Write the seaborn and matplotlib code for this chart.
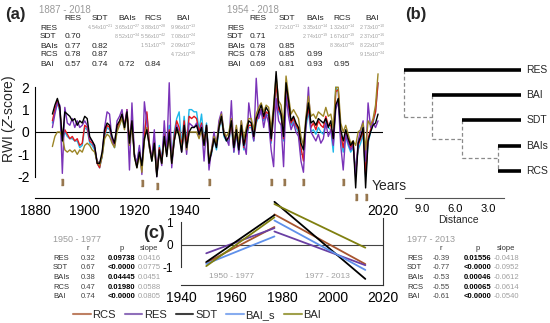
import numpy as np
import pandas as pd
import matplotlib
matplotlib.use("Agg")
import matplotlib.pyplot as plt
from matplotlib.lines import Line2D
import seaborn as sns

# ---------------- data ----------------
years = list(range(1887, 2019))
series_names = ["RCS", "RES", "SDT", "BAI_s", "BAI"]

sdt = [0.8, 1.2, 1.5,
       1.1, -0.4, 0.9, 0.8, 0.7, 0.5, 0.6, 0.3, 0.5, 0.4,
       0.7, 0.6, -0.2, -0.4, -0.6, -1.4, -1.4, -0.9, 0.1, 0.4,
       0.3, -0.2, -0.5, 0.3, 0.5, 0.8, 0.2, 0.9, -0.5, 0.5,
       -1.1, -1.6, -0.9, -1.5, -0.3, 0.1, -0.6, -1.3, -0.5, -2.0,
       -0.8, -1.4, -0.2, -1.1, 0.0, -1.4, -0.4, 0.2, -0.2, -0.9,
       0.3, -0.7, 0.0, 0.2, 0.2, 0.3, -0.1, 0.2, -0.6, 0.3,
       -1.4, -0.9, -0.3, -0.7, 0.2, 0.7, -0.1, -0.4, -0.2, 0.5,
       -0.7, 0.1, -0.8, 0.3, -0.6, 0.0, 0.5, 0.4, -0.2, 0.6,
       0.9, 1.2, 0.7, 1.1, 0.9, -0.3, 1.0, 2.7, 1.2, 0.8,
       -0.2, 2.2, 1.4, 0.5, 0.7, 0.4, 0.2, -0.5, -0.8, 0.5,
       1.3, 0.4, 0.5, 0.3, 0.6, 0.5, 0.4, 0.6, 0.2, 0.5,
       -0.3, 1.2, 1.5, 0.1, -0.4, 0.1, -0.3, -0.6, -0.4, -2.5,
       -0.5, -0.2, 0.2, -2.5, -0.4, 0.0, 0.3, 0.4, 0.8]

rcs = [0.5, 1.0, 1.4,
       1.0, -0.3, 0.1, -0.1, -0.3, -0.2, -0.4, -0.3, -0.6, -0.5,
       0.3, 0.2, -0.4, -0.5, -0.7, -1.4, -1.6, -1.0, -0.1, 0.3,
       0.2, -0.3, -0.6, 0.2, 0.4, 0.8, 0.3, 1.0, -0.4, 0.6,
       -1.0, -1.5, -0.8, -1.6, -0.2, 0.9, -0.5, -1.2, -0.4, -1.9,
       -0.7, -1.3, -0.1, -0.9, 0.1, -1.3, -0.2, 0.5, 0.2, -0.7,
       0.5, -0.6, 0.7, 0.6, 0.7, 0.6, 0.0, 0.4, -0.5, 0.3,
       -1.3, -0.9, -0.3, -0.6, 0.2, 0.7, -0.1, -0.3, -0.3, 0.4,
       -0.8, 0.0, -0.8, 0.2, -0.7, -0.2, 0.3, 0.3, -0.3, 0.5,
       0.8, 1.0, 0.6, 0.9, 0.8, -0.4, 0.8, 2.2, 1.0, 0.8,
       -0.3, 2.2, 1.2, 0.4, 0.6, 0.3, 0.1, -0.7, -1.3, 0.4,
       1.1, 0.2, 0.4, 0.1, 0.5, 0.3, 0.2, 0.7, 0.3, 0.3,
       -0.5, 1.8, 1.9, -0.1, -0.7, 0.0, -0.4, -0.7, -0.5, -1.9,
       -0.6, -0.3, 0.1, -1.9, -0.3, 0.1, 0.5, 0.9, 2.2]

res = [0.2, 0.8, 1.3,
       1.2, -1.85, 1.1, 0.4, 0.3, 0.6, 0.2, 0.5, 0.2, 0.3,
       0.5, 0.3, -0.3, -0.4, -0.7, -1.3, -1.4, -1.1, 0.2, 0.9,
       0.8, -0.4, -0.6, 0.5, 0.7, 1.0, 0.2, 1.0, -1.7, 1.3,
       -1.0, -1.4, -0.6, -1.9, 1.35, 0.4, -0.7, -1.2, 0.1, -2.0,
       -0.9, -1.5, 0.5, -1.0, 2.2, -1.6, -0.4, 0.3, 0.0, -0.9,
       0.1, -1.0, 0.4, 0.3, 0.2, 0.4, -0.2, 0.3, -1.3, 0.2,
       -1.7, -0.8, 0.0, -0.6, 0.5, 0.9, 0.0, -0.3, -0.6, 1.4,
       -0.9, 0.2, -1.0, 0.5, -0.5, -1.0, 1.3, 0.5, -0.4, 2.4,
       0.6, 1.0, 0.2, 0.8, 0.4, -0.8, -1.55, 1.5, 0.5, 0.3,
       -1.55, 1.6, 0.7, 0.1, 0.4, 0.0, -0.2, -1.3, -1.8, 0.3,
       2.0, 0.0, -0.2, -0.4, -0.1, -0.5, -0.3, 0.4, -0.2, 0.1,
       -0.6, 1.0, 1.4, -0.6, -1.7, -0.1, -0.5, -0.8, -0.6, -2.0,
       -0.4, 0.1, 0.5, -1.3, 1.3, 0.2, 0.4, 0.2, 0.5]

bai_s = [0.4, 0.9, 1.3,
         0.9, -0.4, 0.0, -0.2, -0.3, -0.3, -0.4, -0.4, -0.7, -0.6,
         0.2, 0.1, -0.5, -0.6, -0.8, -1.4, -1.6, -1.1, -0.2, 0.2,
         0.1, -0.4, -0.7, 0.1, 0.3, 0.7, 0.2, 0.9, -0.5, 0.5,
         -1.0, -1.4, -0.7, -1.7, 0.0, 0.8, -0.5, -1.3, -0.3, -1.9,
         -0.6, -1.2, 0.0, -0.8, 0.3, -1.2, 0.0, 0.6, 0.9, -0.6,
         0.7, -0.5, 1.0, 1.0, 0.9, 0.9, 0.1, 0.8, -0.4, 0.4,
         -1.2, -1.0, -0.3, -0.8, 0.1, 0.6, -0.2, -0.4, -0.4, 0.3,
         -0.9, -0.1, -0.9, 0.1, -0.8, -0.3, 0.2, 0.2, -0.4, 0.4,
         0.7, 0.9, 0.5, 0.8, 0.7, -0.5, 0.7, 2.2, 0.9, 0.7,
         -0.4, 2.0, 1.1, 0.3, 0.5, 0.2, 0.0, -1.0, -1.0, 0.2,
         0.9, 0.0, 0.1, -0.1, 0.2, 0.0, -0.1, 0.5, 0.2, 0.1,
         -0.9, 2.0, 1.8, -0.3, -0.9, -0.2, -0.6, -0.9, -0.7, -1.6,
         -0.8, -0.5, -0.1, -2.0, -0.5, 0.0, 0.4, 0.9, 2.2]

bai = [-0.65, -0.2, 0.0,
       0.0, -0.2, -0.8, -0.9, -0.8, -0.9, -0.8, -1.0, -0.8, -0.9,
       -0.6, -0.5, -0.6, -0.8, -0.9, -1.3, -1.5, -1.1, -0.3, -0.1,
       -0.2, -0.5, -0.7, 0.0, 0.3, 0.6, 0.1, 0.8, -0.6, 0.3,
       -1.1, -1.6, -1.0, -1.8, -0.4, 0.2, -0.7, -1.3, -0.6, -1.9,
       -0.9, -1.4, -0.3, -1.0, -0.1, -1.4, -0.4, 0.1, 0.0, -0.8,
       0.1, -0.8, 0.0, 0.0, 0.0, 0.0, -0.3, 0.1, -0.6, 0.2,
       -1.3, -0.8, -0.2, -0.5, 0.3, 0.8, 0.0, -0.2, 0.0, 0.6,
       -0.5, 0.3, -0.5, 0.5, -0.3, 0.2, 0.6, 0.6, 0.1, 0.8,
       1.1, 1.3, 0.9, 1.2, 1.1, 0.1, 1.2, 2.5, 1.4, 1.2,
       0.3, 2.5, 1.6, 0.8, 1.0, 0.8, 0.6, -0.2, -0.6, 0.7,
       1.6, 0.7, 0.8, 0.6, 0.9, 0.8, 0.7, 1.1, 0.7, 0.8,
       0.2, 2.0, 2.0, 0.4, 0.0, 0.3, -0.1, -0.5, -0.4, -0.6,
       0.0, 0.1, 0.4, -0.8, 0.5, 0.3, 0.6, 1.2, 2.6]

pointer_years = [1891, 1923, 1929, 1950, 1975, 1980, 1988, 2004, 2009, 2013]

# correlation tables (panel a)
tab_names = ["RES", "SDT", "BAIs", "RCS", "BAI"]
r_1887 = [[], ["0.70"], ["0.77", "0.82"], ["0.78", "0.87", ""], ["0.57", "0.74", "0.72", "0.84"]]
p_1887 = [["4.54x10$^{-21}$", "3.65x10$^{-27}$", "3.88x10$^{-28}$", "9.96x10$^{-13}$"],
          ["8.52x10$^{-34}$", "5.56x10$^{-42}$", "7.08x10$^{-24}$"],
          ["1.51x10$^{-79}$", "2.09x10$^{-22}$"],
          ["4.72x10$^{-36}$"], []]
r_1954 = [[], ["0.71"], ["0.78", "0.85"], ["0.78", "0.85", "0.99"], ["0.69", "0.81", "0.93", "0.95"]]
p_1954 = [["2.72x10$^{-11}$", "3.35x10$^{-14}$", "1.32x10$^{-14}$", "2.73x10$^{-10}$"],
          ["2.74x10$^{-19}$", "1.67x10$^{-19}$", "2.37x10$^{-16}$"],
          ["8.36x10$^{-56}$", "8.22x10$^{-30}$"],
          ["9.15x10$^{-34}$"], []]

# dendrogram (panel b)
leaf_names = ["RES", "BAI", "SDT", "BAIs", "RCS"]
merges = [("BAIs", "RCS", 2.1), ("SDT", "n1", 5.4), ("BAI", "n2", 8.1), ("RES", "n3", 10.6)]

# trend segments (panel c)
seg_years = {"1950 - 1977": [1950, 1977], "1977 - 2013": [1977, 2013]}
seg1_vals = {"RCS": [-0.81, 0.78], "RES": [-0.39, 0.73], "SDT": [-0.78, 1.31],
             "BAI_s": [-0.86, 0.36], "BAI": [-0.96, 1.21]}
seg2_vals = {"RCS": [1.34, -0.87], "RES": [0.58, -0.92], "SDT": [1.90, -1.53],
             "BAI_s": [1.07, -1.13], "BAI": [1.80, -0.14]}
stat_names = ["RES", "SDT", "BAIs", "RCS", "BAI"]
r_5077 = ["0.32", "0.67", "0.38", "0.47", "0.74"]
p_5077 = ["0.09738", "<0.0000", "0.04445", "0.01980", "<0.0000"]
s_5077 = ["0.0416", "0.0775", "0.0451", "0.0588", "0.0805"]
r_7713 = ["-0.39", "-0.77", "-0.53", "-0.55", "-0.61"]
p_7713 = ["0.01556", "<0.0000", "0.00046", "0.00065", "<0.0000"]
s_7713 = ["-0.0418", "-0.0952", "-0.0612", "-0.0614", "-0.0540"]

# ---------------- style ----------------
sns.set_theme(style="white")
plt.rcParams["font.family"] = ["Liberation Sans", "DejaVu Sans"]
plt.rcParams["mathtext.fontset"] = "custom"
plt.rcParams["mathtext.rm"] = "Liberation Sans"
plt.rcParams["mathtext.it"] = "Liberation Sans:italic"
plt.rcParams["axes.unicode_minus"] = False

W, H = 550, 323
fig = plt.figure(figsize=(W / 100, H / 100), dpi=100)


def fx(x):
    return x / W


def fy(y):
    return 1 - y / H


def ftxt(x, y, s, **kw):
    fig.text(fx(x), fy(y), s, **kw)


a_colors = {"RCS": "#e4161c", "RES": "#7a33b8", "SDT": "#000000", "BAI_s": "#1fb8ea", "BAI": "#9c8526"}
c_colors = {"RCS": "#a8552f", "RES": "#6a3fa3", "SDT": "#000000", "BAI_s": "#5f90ea", "BAI": "#808010"}

# ---------------- panel (a) ----------------
axA = fig.add_axes([fx(35), fy(198), fx(383) - fx(35), fy(70) - fy(198)])
df = pd.DataFrame({"year": years * 5,
                   "value": rcs + res + sdt + bai_s + bai,
                   "series": sum([[n] * len(years) for n in series_names], [])})
order = ["BAI_s", "RCS", "RES", "BAI", "SDT"]
sns.lineplot(data=df, x="year", y="value", hue="series", hue_order=order,
             palette=a_colors, linewidth=1.0, legend=False, ax=axA)
axA.axhline(0, color="black", lw=0.8, zorder=0.5)
axA.set_xlim(1880, 2020)
axA.set_ylim(-2.95, 2.77)
axA.set_xticks([1880, 1900, 1920, 1940, 2020])
axA.set_yticks([-2, -1, 0, 1, 2])
axA.set_xlabel("")
axA.set_ylabel("")
for s in ["top", "right"]:
    axA.spines[s].set_visible(False)
axA.spines["bottom"].set_bounds(1880, 1950)
axA.spines["left"].set_bounds(-2, 2)
for s in ["bottom", "left"]:
    axA.spines[s].set_color("black")
    axA.spines[s].set_linewidth(0.8)
axA.tick_params(axis="x", direction="in", length=3, width=0.8, labelsize=10, pad=4, colors="black")
axA.tick_params(axis="y", direction="out", length=3, width=0.8, labelsize=10, pad=1, colors="black")
axA.set_facecolor("none")

# pointer-year markers
vals_by_year = dict(zip(years, zip(rcs, res, sdt, bai_s, bai)))
rect = [(-0.4, -1), (0.4, -1), (0.4, 1), (-0.4, 1)]
for yr in pointer_years:
    ymin = min(vals_by_year[yr])
    ym = min(-2.25, ymin - 0.4)
    axA.plot([yr], [ym], marker=rect, markersize=4.5, color="#97774f", ls="none", clip_on=False)

ftxt(9, 119, r"RWI ($Z$-score)", rotation=90, ha="center", va="center", fontsize=10)
ftxt(372, 186, "Years", ha="left", va="center", fontsize=10)
ftxt(5, 14, "(a)", ha="left", va="center", fontsize=12, fontweight="bold")


def corr_table(x_title, x_label, col_x, title, r_rows, p_rows):
    ftxt(x_title, 10, title, ha="left", va="center", fontsize=7, color="#9a9a9a")
    row_y = [28, 37, 46, 55, 65]
    for cx, n in zip(col_x, tab_names):
        ftxt(cx, 18, n, ha="center", va="center", fontsize=6, color="#222222")
    for i, n in enumerate(tab_names):
        ftxt(x_label, row_y[i], n, ha="left", va="center", fontsize=6, color="#222222")
        for j, v in enumerate(r_rows[i]):
            ftxt(col_x[j], row_y[i], v, ha="center", va="center", fontsize=6, color="#222222")
        for k, v in enumerate(p_rows[i]):
            ftxt(col_x[i + 1 + k], row_y[i] - 1, v, ha="center", va="center", fontsize=3.8, color="#a0a0a0")


corr_table(39, 40, [73, 100, 127, 153, 183], "1887 - 2018", r_1887, p_1887)
corr_table(227, 227, [258, 287, 315, 342, 372], "1954 - 2018", r_1954, p_1954)

# ---------------- panel (b) ----------------
axB = fig.add_axes([fx(395), fy(198), fx(521) - fx(395), fy(60) - fy(198)])
axB.set_xlim(11.45, 0)
axB.set_ylim(5.07, -0.396)
ypos = {n: i for i, n in enumerate(leaf_names)}
xpos = {n: 0.0 for n in leaf_names}
for k, (a, b, d) in enumerate(merges):
    node = "n%d" % (k + 1)
    for child in (a, b):
        if child in leaf_names:
            axB.plot([d, 0], [ypos[child], ypos[child]], color="black", lw=2.6, solid_capstyle="butt", zorder=3)
        else:
            axB.plot([d, xpos[child]], [ypos[child], ypos[child]], color="#8a8a8a", lw=0.9,
                     dashes=(3, 2), zorder=2)
    axB.plot([d, d], [ypos[a], ypos[b]], color="#8a8a8a", lw=0.9, dashes=(3, 2), zorder=2)
    ypos[node] = (ypos[a] + ypos[b]) / 2
    xpos[node] = d
for n in leaf_names:
    axB.text(-0.5, ypos[n], n, ha="left", va="center", fontsize=7.5, clip_on=False)
for s in ["top", "right", "left"]:
    axB.spines[s].set_visible(False)
axB.spines["bottom"].set_bounds(10.5, 1.5)
axB.spines["bottom"].set_color("#555555")
axB.spines["bottom"].set_linewidth(0.8)
axB.set_xticks([9, 6, 3])
axB.set_xticklabels(["9.0", "6.0", "3.0"])
axB.set_xticks([10.5, 7.5, 4.5, 1.5], minor=True)
axB.set_yticks([])
axB.tick_params(axis="x", which="both", direction="in", length=3, width=0.7, colors="#555555",
                labelsize=8, labelcolor="black", pad=4)
axB.set_xlabel("Distance", fontsize=7.5, labelpad=1)
axB.set_facecolor("none")
ftxt(405, 15, "(b)", ha="left", va="center", fontsize=12, fontweight="bold")

# ---------------- panel (c) ----------------
axC = fig.add_axes([fx(181), fy(285), fx(383) - fx(181), fy(218) - fy(285)])
rows = []
for seg, vals in zip(seg_years, [seg1_vals, seg2_vals]):
    for n in series_names:
        for yv, v in zip(seg_years[seg], vals[n]):
            rows.append({"year": yv, "value": v, "series": n, "segment": seg})
dc = pd.DataFrame(rows)
sns.lineplot(data=dc, x="year", y="value", hue="series", hue_order=series_names, units="segment",
             estimator=None, palette=c_colors, linewidth=1.3, legend=False, ax=axC)
for l in axC.get_lines():
    l.set_clip_on(False)
axC.axhline(0, color="#444444", lw=0.8, zorder=0.5)
axC.set_xlim(1940, 2020)
axC.set_ylim(-1.8, 1.18)
axC.set_xticks([1940, 1960, 1980, 2000, 2020])
axC.set_yticks([-1, 0, 1])
axC.set_xlabel("")
axC.set_ylabel("")
axC.spines["top"].set_visible(False)
axC.spines["left"].set_bounds(-1, 1)
for s in ["bottom", "left", "right"]:
    axC.spines[s].set_color("#333333")
    axC.spines[s].set_linewidth(0.8)
axC.tick_params(axis="x", direction="in", length=3, width=0.8, labelsize=10, pad=4, colors="black")
axC.tick_params(axis="y", direction="out", length=4, width=0.8, labelsize=8.5, pad=2, colors="black")
axC.set_facecolor("none")
axC.text(1960, -1.44, "1950 - 1977", ha="center", va="center", fontsize=6, color="#a0a0a0")
axC.text(1998, -1.44, "1977 - 2013", ha="center", va="center", fontsize=6, color="#a0a0a0")
ftxt(143, 233, "(c)", ha="left", va="center", fontsize=13, fontweight="bold")


def stat_table(x_lab, xr, xp, xs, title, rv, pv, sv):
    ftxt(x_lab, 240, title, ha="left", va="center", fontsize=6.5, color="#9a9a9a")
    ftxt(xr, 249, "r", ha="center", va="center", fontsize=5.5, color="#333333")
    ftxt(xp, 249, "p", ha="center", va="center", fontsize=5.5, color="#333333")
    ftxt(xs, 249, "slope", ha="center", va="center", fontsize=5.5, color="#333333")
    for i, n in enumerate(stat_names):
        y = 258 + 9.7 * i
        ftxt(x_lab, y, n, ha="left", va="center", fontsize=5.5, color="#333333")
        ftxt(xr, y, rv[i], ha="center", va="center", fontsize=5.5, color="#444444")
        ftxt(xp, y, pv[i], ha="center", va="center", fontsize=5.5, color="black", fontweight="bold")
        ftxt(xs, y, sv[i], ha="center", va="center", fontsize=5.5, color="#a0a0a0")


stat_table(53, 88, 122, 149, "1950 - 1977", r_5077, p_5077, s_5077)
stat_table(407, 441, 478, 506, "1977 - 2013", r_7713, p_7713, s_7713)

# legend
handles = [Line2D([0], [0], color=c_colors[n], lw=1.5, alpha=0.75) for n in series_names]
fig.legend(handles, series_names, loc="center", bbox_to_anchor=(fx(197), fy(315)), ncol=5,
           frameon=False, fontsize=8, handlelength=1.6, handletextpad=0.15, columnspacing=0.8,
           borderpad=0, borderaxespad=0)

fig.savefig("out.png", dpi=100)
